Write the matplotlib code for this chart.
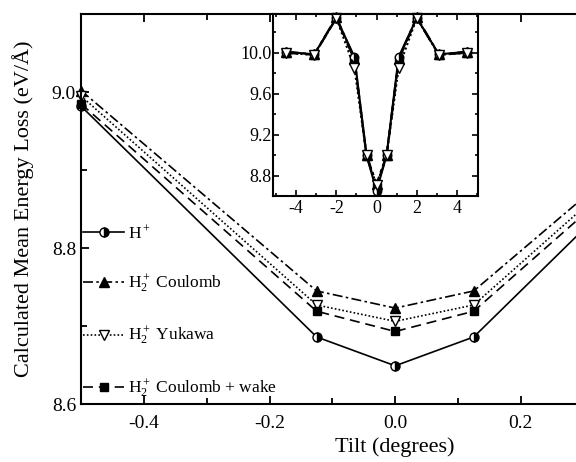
import numpy as np
import matplotlib
matplotlib.use('Agg')
import matplotlib.pyplot as plt
from matplotlib.ticker import MultipleLocator

plt.rcParams['font.family'] = ['Liberation Serif', 'DejaVu Serif']
plt.rcParams['mathtext.fontset'] = 'custom'
plt.rcParams['mathtext.rm'] = 'Liberation Serif'
plt.rcParams['mathtext.it'] = 'Liberation Serif:italic'
plt.rcParams['axes.unicode_minus'] = False

# Main panel data (tilt in degrees)
tilt = [-0.5, -0.125, 0.0, 0.125, 0.5]
h_plus = [8.982, 8.686, 8.649, 8.686, 8.982]
h2_coulomb = [9.002, 8.745, 8.723, 8.745, 9.002]
h2_yukawa = [8.995, 8.727, 8.706, 8.727, 8.995]
h2_wake = [8.985, 8.719, 8.693, 8.719, 8.985]

# Inset data (wider tilt range)
tilt_in = [-4.5, -3.1, -2.0, -1.1, -0.5, 0.0, 0.5, 1.1, 2.0, 3.1, 4.5]
h_plus_in = [10.01, 9.985, 10.34, 9.96, 9.0, 8.65, 9.0, 9.96, 10.34, 9.985, 10.01]
h2_coulomb_in = [10.01, 9.985, 10.35, 9.94, 9.0, 8.72, 9.0, 9.94, 10.35, 9.985, 10.01]
h2_yukawa_in = [10.0, 9.98, 10.34, 9.85, 9.0, 8.705, 9.0, 9.85, 10.34, 9.98, 10.0]
h2_wake_in = [10.0, 9.98, 10.34, 9.93, 8.99, 8.69, 8.99, 9.93, 10.34, 9.98, 10.0]

labels = [r'H$^+$', r'H$_2^+$ Coulomb', r'H$_2^+$ Yukawa', r'H$_2^+$ Coulomb + wake']

styles = [
    dict(linestyle='-', marker='o', fillstyle='right', markerfacecoloralt='white', markersize=6.5),
    dict(linestyle=(0, (6, 2, 1.5, 2)), marker='^', markersize=7),
    dict(linestyle=(0, (1, 1.3)), marker='v', markerfacecolor='white', markersize=7.5),
    dict(linestyle=(0, (6, 3.5)), marker='s', markersize=6),
]

fig = plt.figure(figsize=(5.76, 4.62), dpi=100)
# main axes is wider than the figure: right part is cut off like the reference
ax = fig.add_axes([0.1406, 0.1255, 1.091, 0.844])

for ys, lab, st in zip([h_plus, h2_coulomb, h2_yukawa, h2_wake], labels, styles):
    ax.plot(tilt, ys, color='black', lw=1.2, markeredgecolor='black',
            markeredgewidth=1.0, label=lab, clip_on=False, **st)

ax.set_xlim(-0.5, 0.5)
ax.set_ylim(8.6, 9.1)
ax.set_xticks([-0.4, -0.2, 0.0, 0.2])
ax.xaxis.set_minor_locator(MultipleLocator(0.1))
ax.set_yticks([8.6, 8.8, 9.0])
ax.yaxis.set_minor_locator(MultipleLocator(0.1))
ax.xaxis.set_major_formatter(plt.FuncFormatter(lambda v, p: f'{v:.1f}'.replace('-0.0', '0.0')))
ax.tick_params(which='both', direction='in', top=True, right=True, labelsize=14, width=1.3)
ax.tick_params(which='major', length=6)
ax.tick_params(which='minor', length=4)
ax.tick_params(axis='x', pad=8)
for s in ax.spines.values():
    s.set_linewidth(1.5)
ax.set_xlabel('Tilt (degrees)', fontsize=16, labelpad=4)
ax.set_ylabel('Calculated Mean Energy Loss (eV/Å)', fontsize=16, labelpad=13)

leg = ax.legend(loc='lower left', bbox_to_anchor=(-0.022, -0.03), frameon=False,
                fontsize=12.5, handlelength=2.4, handletextpad=0.2, labelspacing=1.75)

# Inset
axi = fig.add_axes([0.474, 0.5758, 0.356, 0.394])
inset_series = [h2_wake_in, h2_coulomb_in, h_plus_in, h2_yukawa_in]
inset_styles = [styles[3], styles[1], styles[0], styles[2]]
for ys, st in zip(inset_series, inset_styles):
    st2 = dict(st)
    st2['markersize'] = st['markersize'] - 0.5
    axi.plot(tilt_in, ys, color='black', lw=1.5, markeredgecolor='black',
             markeredgewidth=1.0, clip_on=False, **st2)
axi.set_xlim(-5.15, 5.05)
axi.set_ylim(8.6, 10.38)
axi.xaxis.set_major_locator(MultipleLocator(2))
axi.xaxis.set_minor_locator(MultipleLocator(1))
axi.set_yticks([8.8, 9.2, 9.6, 10.0])
axi.yaxis.set_minor_locator(MultipleLocator(0.2))
axi.yaxis.set_major_formatter(plt.FuncFormatter(lambda v, p: f'{v:.1f}'))
axi.tick_params(which='both', direction='in', top=True, right=True, labelsize=13, width=1.2)
axi.tick_params(which='major', length=4)
axi.tick_params(which='minor', length=2.5)
axi.tick_params(axis='y', pad=1)
axi.tick_params(axis='x', pad=3)
for s in axi.spines.values():
    s.set_linewidth(1.5)

fig.savefig('out.png', dpi=100)
